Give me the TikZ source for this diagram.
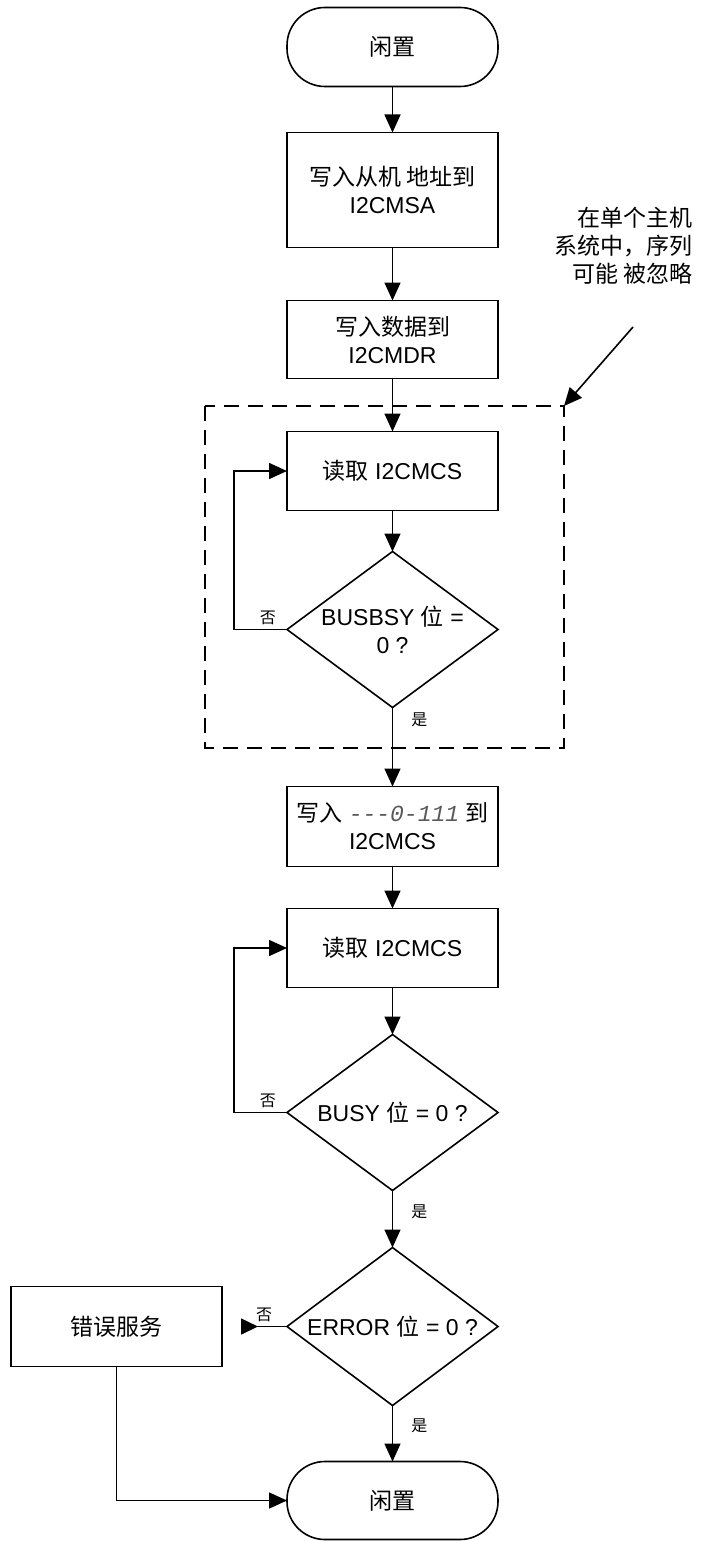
\documentclass[tikz,border=0pt]{standalone}
\usepackage{fontspec}
\setmainfont{Liberation Sans}
\setmonofont{Liberation Mono}
\newfontfamily\cjk{Noto Sans CJK SC}
\usetikzlibrary{arrows.meta,positioning,shapes.geometric,calc}

\begin{document}
\begin{tikzpicture}[
  x=1pt, y=-1pt,
  every node/.style={font=\fontsize{23}{28}\selectfont},
  box/.style={draw, line width=1.6pt, minimum width=211pt, align=center, inner sep=2pt, outer sep=0pt},
  term/.style={box, rounded corners=38pt, minimum height=79pt},
  proc/.style={box, minimum height=79pt},
  dec/.style={box, diamond, aspect=1.35, minimum height=156pt, inner sep=-5pt},
  lbl/.style={font=\fontsize{16}{18}\selectfont\cjk, inner sep=1pt},
  arr/.style={-{Triangle[length=18pt,width=16pt]}, line width=1.6pt},
  rarr/.style={-{Triangle[reversed,length=17pt,width=16pt]}, line width=1.6pt},
  grp/.style={dash pattern=on 15pt off 9pt, line width=1.6pt},
  note/.style={align=right, inner sep=0pt, font=\fontsize{23}{28}\selectfont\cjk},
]
  \useasboundingbox (0,0) rectangle (708,1541);

  \node[term] (t1) at (392.5,47) {\cjk 闲置};
  \node[proc, minimum height=115pt, below=46pt of t1] (r1) {{\cjk 写入从机 地址到}\\I2CMSA};
  \node[proc, minimum height=78pt, below=53pt of r1] (r2) {{\cjk 写入数据到}\\I2CMDR};
  \node[proc, below=53pt of r2] (r3) {{\cjk 读取} I2CMCS};
  \node[dec, below=41pt of r3] (d1) {BUSBSY {\cjk 位} =\\0 ?};
  \node[proc, minimum height=80pt, below=79pt of d1] (r4)
        {{\cjk 写入} {\ttfamily\itshape\color{black!65}-{}-{}-0-111} {\cjk 到}\\I2CMCS};
  \node[proc, below=42pt of r4] (r5) {{\cjk 读取} I2CMCS};
  \node[dec, below=47pt of r5] (d2) {BUSY {\cjk 位} = 0 ?};
  \node[dec, minimum height=158pt, below=57pt of d2] (d3) {ERROR {\cjk 位} = 0 ?};
  \node[term, minimum height=78pt, below=56pt of d3] (t2) {\cjk 闲置};
  \node[proc, minimum height=80pt, left=65pt of d3] (err) {\cjk 错误服务};
  \coordinate (errin) at ($(err.east)+(19,0)$);

  % optional part for a single master
  \coordinate (gtl) at (205,406);
  \coordinate (gbr) at (564,748);
  \coordinate (gtr) at (564,406);
  \draw[grp] (gtl) rectangle (gbr);
  \node[note, anchor=east] (ann) at (693,246) {在单个主机\\系统中，序列\\可能 被忽略};
  \coordinate (annend) at (633,327);
  \draw[arr] (annend) -- (gtr);

  \draw[arr] (t1) -- (r1);
  \draw[arr] (r1) -- (r2);
  \draw[arr] (r2) -- (r3);
  \draw[arr] (r3) -- (d1);
  \draw[arr] (d1.west) -- node[lbl, pos=.36, above=3pt] {否} ++(-53,0) |- (r3.west);
  \draw[arr] (d1) -- node[lbl, pos=.15, right=17pt] {是} (r4);
  \draw[arr] (r4) -- (r5);
  \draw[arr] (r5) -- (d2);
  \draw[arr] (d2.west) -- node[lbl, pos=.36, above=3pt] {否} ++(-53,0) |- (r5.west);
  \draw[arr] (d2) -- node[lbl, pos=.37, right=17pt] {是} (d3);
  \draw[rarr] (d3.west) -- node[lbl, above=3pt] {否} (errin);
  \draw[arr] (d3) -- node[lbl, pos=.36, right=17pt] {是} (t2);
  \draw[arr] (err.south) |- (t2.west);
\end{tikzpicture}
\end{document}
